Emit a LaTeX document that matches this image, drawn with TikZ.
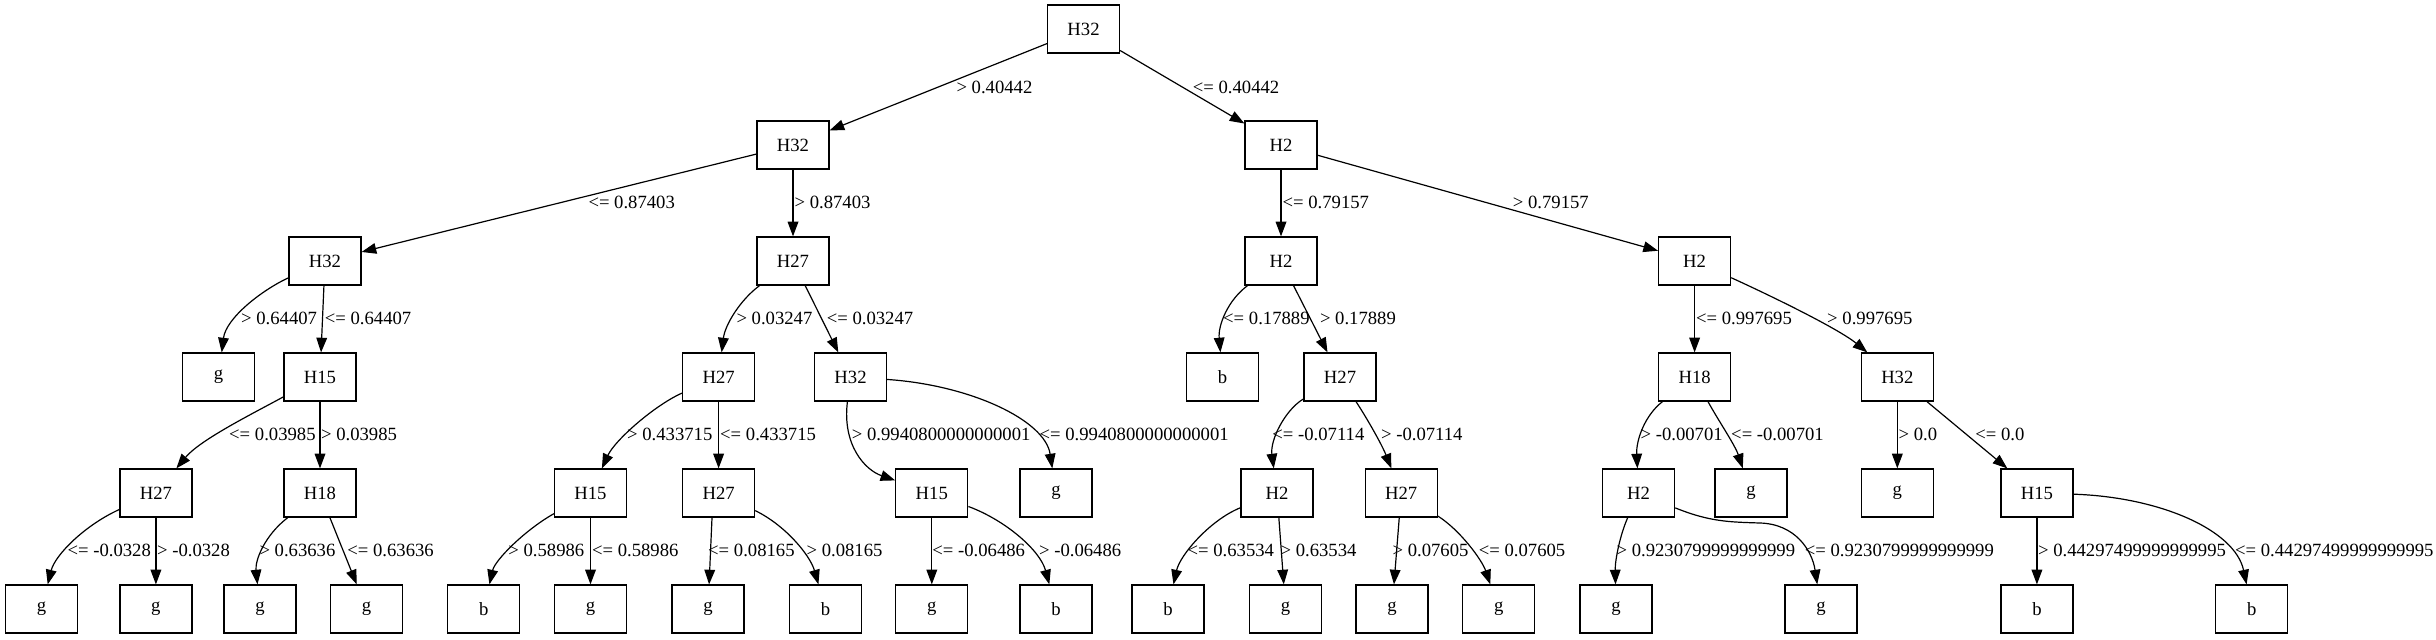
\documentclass[tikz,border=0pt]{standalone}
\usepackage{fontspec}
\setmainfont{Liberation Serif}
\usetikzlibrary{arrows.meta}
\begin{document}
\begin{tikzpicture}[x=0.75pt,y=-0.75pt,
  tn/.style={draw, rectangle, minimum width=54pt, minimum height=36pt, inner sep=0pt, line width=0.9pt, font=\fontsize{14}{16}\selectfont},
  ed/.style={line width=0.9pt, -{Triangle[length=11pt,width=8pt]}},
  lb/.style={anchor=west, inner sep=0pt, font=\fontsize{14}{16}\selectfont}]
\useasboundingbox (0,0) rectangle (2436,639);
% row 0
\node[tn] (r) at (1083.5,29) {H32};
% row 1
\node[tn] (a) at (793,145) {H32};
\node[tn] (bb) at (1281,145) {H2};
% row 2
\node[tn] (c) at (325,261) {H32};
\node[tn] (d) at (793,261) {H27};
\node[tn] (e) at (1281,261) {H2};
\node[tn] (f) at (1694.6,261) {H2};
% row 3
\node[tn] (c1) at (218.6,377) {g};
\node[tn] (c2) at (320,377) {H15};
\node[tn] (d1) at (718.6,377) {H27};
\node[tn] (d2) at (850.5,377) {H32};
\node[tn] (e1) at (1222.6,377) {b};
\node[tn] (e2) at (1340,377) {H27};
\node[tn] (f1) at (1694.6,377) {H18};
\node[tn] (f2) at (1897.3,377) {H32};
% row 4
\node[tn] (c21) at (155.9,493) {H27};
\node[tn] (c22) at (320,493) {H18};
\node[tn] (d11) at (590.5,493) {H15};
\node[tn] (d12) at (718.6,493) {H27};
\node[tn] (d21) at (931.8,493) {H15};
\node[tn] (d22) at (1056,493) {g};
\node[tn] (e21) at (1277,493) {H2};
\node[tn] (e22) at (1401.2,493) {H27};
\node[tn] (f11) at (1638.6,493) {H2};
\node[tn] (f12) at (1751,493) {g};
\node[tn] (f21) at (1897.3,493) {g};
\node[tn] (f22) at (2036.9,493) {H15};
% row 5
\node[tn] (c211) at (41.6,609) {g};
\node[tn] (c212) at (155.9,609) {g};
\node[tn] (c221) at (260,609) {g};
\node[tn] (c222) at (366.6,609) {g};
\node[tn] (d111) at (483.8,609) {b};
\node[tn] (d112) at (590.5,609) {g};
\node[tn] (d121) at (708,609) {g};
\node[tn] (d122) at (825.5,609) {b};
\node[tn] (d211) at (931.8,609) {g};
\node[tn] (d212) at (1056,609) {b};
\node[tn] (e211) at (1168,609) {b};
\node[tn] (e212) at (1285.6,609) {g};
\node[tn] (e221) at (1392,609) {g};
\node[tn] (e222) at (1498.7,609) {g};
\node[tn] (f111) at (1616,609) {g};
\node[tn] (f112) at (1821,609) {g};
\node[tn] (f221) at (2036.9,609) {b};
\node[tn] (f222) at (2251.8,609) {b};
% edges row 0-1
\draw[ed] (r) -- (a) node[lb] (l1) at (955.9,87) {> 0.40442};
\draw[ed] (r) -- (bb) node[lb] (l2) at (1192.3,87) {<= 0.40442};
% row 1-2
\draw[ed] (a) -- (c) node[lb] (l3) at (587.9,202.5) {<= 0.87403};
\draw[ed] (a) -- (d) node[lb] (l4) at (794,202.5) {> 0.87403};
\draw[ed] (bb) -- (e) node[lb] (l5) at (1282,202.5) {<= 0.79157};
\draw[ed] (bb) -- (f) node[lb] (l6) at (1512.3,202.5) {> 0.79157};
% row 2-3
\draw[ed] (c) .. controls (262,290) and (226,318) .. (c1) node[lb] (l7) at (240.6,318.5) {> 0.64407};
\draw[ed] (c) -- (c2) node[lb] (l8) at (324.3,318.5) {<= 0.64407};
\draw[ed] (d) .. controls (740,300) and (725,325) .. (d1) node[lb] (l9) at (735.9,318.5) {> 0.03247};
\draw[ed] (d) -- (d2) node[lb] (l10) at (826.2,318.5) {<= 0.03247};
\draw[ed] (e) .. controls (1228,300) and (1218,325) .. (e1) node[lb] (l11) at (1222.6,318.5) {<= 0.17889};
\draw[ed] (e) -- (e2) node[lb] (l12) at (1319.4,318.5) {> 0.17889};
\draw[ed] (f) -- (f1) node[lb] (l13) at (1695.5,318.5) {<= 0.997695};
\draw[ed] (f) .. controls (1780,300) and (1840,330) .. (f2) node[lb] (l14) at (1826.6,318.5) {> 0.997695};
% row 3-4
\draw[ed] (c2) .. controls (250,415) and (200,440) .. (c21) node[lb] (l15) at (228.6,434.5) {<= 0.03985};
\draw[ed] (c2) -- (c22) node[lb] (l16) at (320.5,434.5) {> 0.03985};
\draw[ed] (d1) .. controls (655,405) and (615,440) .. (d11) node[lb] (l17) at (626.6,434.5) {> 0.433715};
\draw[ed] (d1) -- (d12) node[lb] (l18) at (719.6,434.5) {<= 0.433715};
\draw[ed] (d2) .. controls (842,445) and (865,470) .. (d21) node[lb] (l19) at (851.3,434.5) {> 0.9940800000000001};
\draw[ed] (d2) .. controls (970,385) and (1045,420) .. (d22) node[lb] (l20) at (1039,434.5) {<= 0.9940800000000001};
\draw[ed] (e2) .. controls (1285,410) and (1270,440) .. (e21) node[lb] (l21) at (1271.8,434.5) {<= -0.07114};
\draw[ed] (e2) .. controls (1368,420) and (1382,445) .. (e22) node[lb] (l22) at (1380.5,434.5) {> -0.07114};
\draw[ed] (f1) .. controls (1645,415) and (1636,440) .. (f11) node[lb] (l23) at (1640,434.5) {> -0.00701};
\draw[ed] (f1) .. controls (1718,420) and (1735,445) .. (f12) node[lb] (l24) at (1730.6,434.5) {<= -0.00701};
\draw[ed] (f2) -- (f21) node[lb] (l25) at (1898,434.5) {> 0.0};
\draw[ed] (f2) -- (f22) node[lb] (l26) at (1974.8,434.5) {<= 0.0};
% row 4-5
\draw[ed] (c21) .. controls (85,525) and (55,555) .. (c211) node[lb] (l27) at (67,550) {<= -0.0328};
\draw[ed] (c21) -- (c212) node[lb] (l28) at (156.5,550) {> -0.0328};
\draw[ed] (c22) .. controls (265,535) and (255,560) .. (c221) node[lb] (l29) at (258.9,550) {> 0.63636};
\draw[ed] (c22) -- (c222) node[lb] (l30) at (346.8,550) {<= 0.63636};
\draw[ed] (d11) .. controls (525,530) and (495,560) .. (d111) node[lb] (l31) at (507.8,550) {> 0.58986};
\draw[ed] (d11) -- (d112) node[lb] (l32) at (591.5,550) {<= 0.58986};
\draw[ed] (d12.-105) -- (d121) node[lb] (l33) at (707.6,550) {<= 0.08165};
\draw[ed] (d12) .. controls (785,525) and (810,555) .. (d122) node[lb] (l34) at (806,550) {> 0.08165};
\draw[ed] (d21) -- (d211) node[lb] (l35) at (931.8,550) {<= -0.06486};
\draw[ed] (d21) .. controls (1005,520) and (1040,550) .. (d212) node[lb] (l36) at (1038.5,550) {> -0.06486};
\draw[ed] (e21) .. controls (1210,520) and (1180,555) .. (e211) node[lb] (l37) at (1187,550) {<= 0.63534};
\draw[ed] (e21) -- (e212) node[lb] (l38) at (1280,550) {> 0.63534};
\draw[ed] (e22) -- (e221) node[lb] (l39) at (1392,550) {> 0.07605};
\draw[ed] (e22) .. controls (1460,530) and (1482,560) .. (e222) node[lb] (l40) at (1478.3,550) {<= 0.07605};
\draw[ed] (f11) .. controls (1620,535) and (1615,560) .. (f111) node[lb] (l41) at (1616,550) {> 0.9230799999999999};
\draw[ed] (f11) .. controls (1710,522) and (1730,522) .. (1760,523) .. controls (1795,524) and (1812,550) .. (f112) node[lb] (l42) at (1804.2,550) {<= 0.9230799999999999};
\draw[ed] (f22) -- (f221) node[lb] (l43) at (2037.5,550) {> 0.44297499999999995};
\draw[ed] (f22) .. controls (2160,497) and (2235,530) .. (f222) node[lb] (l44) at (2234.5,550) {<= 0.44297499999999995};
\end{tikzpicture}
\end{document}
